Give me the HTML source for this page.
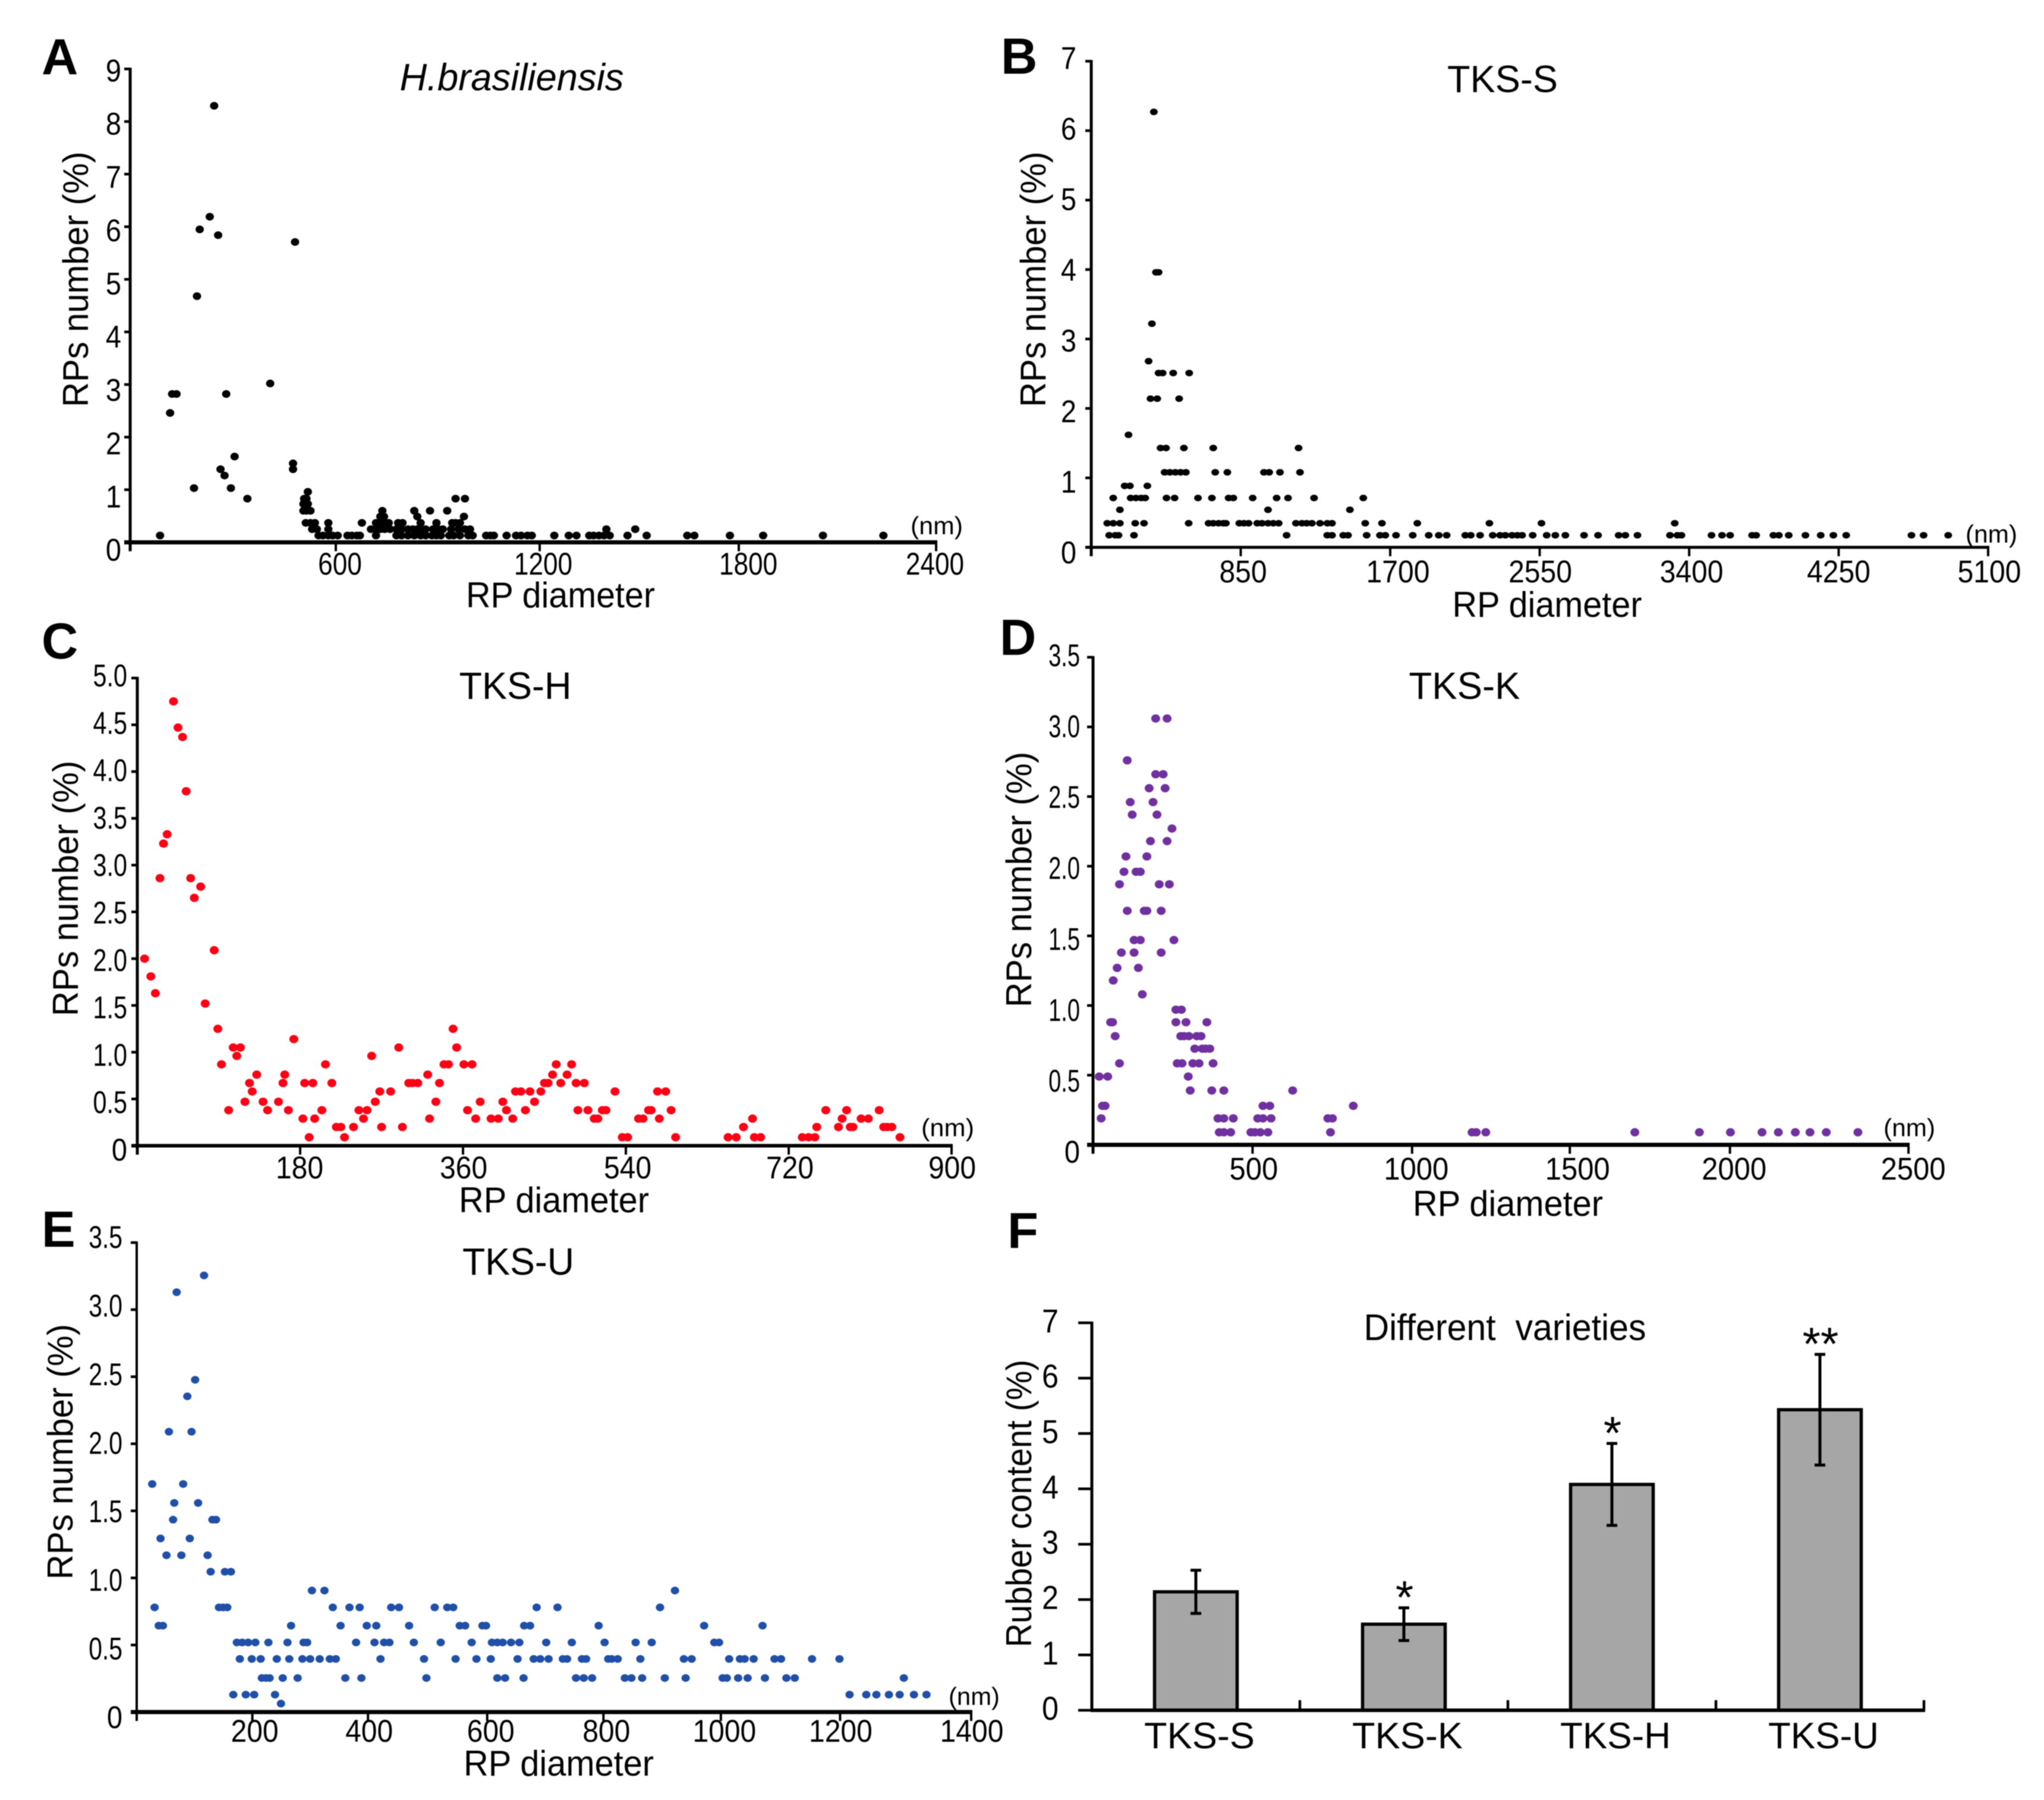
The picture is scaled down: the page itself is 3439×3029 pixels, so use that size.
<!DOCTYPE html>
<html lang="en">
<head>
<meta charset="utf-8">
<title>Rubber particle diameter distributions</title>
<style>
html,body{margin:0;padding:0;background:#fff;}
svg{display:block;}
text{font-family:"Liberation Sans",sans-serif;fill:#000;}
.letter{font-size:85px;font-weight:bold;}
.title{font-size:64px;text-anchor:middle;}
.axis-title{font-size:60px;text-anchor:middle;}
.nm{font-size:42px;}
#figure-content{filter:blur(0.7px);}
</style>
</head>
<body>
<svg id="figure" xmlns="http://www.w3.org/2000/svg" width="3439" height="3029" viewBox="0 0 3439 3029">
<rect x="0" y="0" width="3439" height="3029" fill="#fff"/>
<g id="figure-content">

<g id="panelA">
<text class="letter" x="70" y="125">A</text>
<text class="title" x="861" y="152" font-style="italic" textLength="377" lengthAdjust="spacingAndGlyphs">H.brasiliensis</text>
<text class="axis-title" x="148" y="470" transform="rotate(-90 148 470)" textLength="430" lengthAdjust="spacingAndGlyphs">RPs number (%)</text>
<text class="axis-title" x="943" y="1022" textLength="318" lengthAdjust="spacingAndGlyphs">RP diameter</text>
<text class="nm" x="1532" y="899" textLength="88" lengthAdjust="spacingAndGlyphs">(nm)</text>
</g>

<g id="panelB">
<text class="letter" x="1684" y="124">B</text>
<text class="title" x="2528" y="155" textLength="186" lengthAdjust="spacingAndGlyphs">TKS-S</text>
<text class="axis-title" x="1759" y="470" transform="rotate(-90 1759 470)" textLength="430" lengthAdjust="spacingAndGlyphs">RPs number (%)</text>
<text class="axis-title" x="2603" y="1038" textLength="319" lengthAdjust="spacingAndGlyphs">RP diameter</text>
<text class="nm" x="3307" y="913" textLength="87" lengthAdjust="spacingAndGlyphs">(nm)</text>
</g>

<g id="panelC">
<text class="letter" x="70" y="1108">C</text>
<text class="title" x="867" y="1176" textLength="189" lengthAdjust="spacingAndGlyphs">TKS-H</text>
<text class="axis-title" x="131" y="1495" transform="rotate(-90 131 1495)" textLength="430" lengthAdjust="spacingAndGlyphs">RPs number (%)</text>
<text class="axis-title" x="932" y="2040" textLength="320" lengthAdjust="spacingAndGlyphs">RP diameter</text>
<text class="nm" x="1550" y="1912" textLength="89" lengthAdjust="spacingAndGlyphs">(nm)</text>
</g>

<g id="panelD">
<text class="letter" x="1682" y="1102">D</text>
<text class="title" x="2464" y="1176" textLength="187" lengthAdjust="spacingAndGlyphs">TKS-K</text>
<text class="axis-title" x="1735" y="1480" transform="rotate(-90 1735 1480)" textLength="430" lengthAdjust="spacingAndGlyphs">RPs number (%)</text>
<text class="axis-title" x="2537" y="2046" textLength="320" lengthAdjust="spacingAndGlyphs">RP diameter</text>
<text class="nm" x="3169" y="1912" textLength="87" lengthAdjust="spacingAndGlyphs">(nm)</text>
</g>

<g id="panelE">
<text class="letter" x="70" y="2098">E</text>
<text class="title" x="872" y="2145" textLength="188" lengthAdjust="spacingAndGlyphs">TKS-U</text>
<text class="axis-title" x="122" y="2443" transform="rotate(-90 122 2443)" textLength="430" lengthAdjust="spacingAndGlyphs">RPs number (%)</text>
<text class="axis-title" x="940" y="2988" textLength="320" lengthAdjust="spacingAndGlyphs">RP diameter</text>
<text class="nm" x="1596" y="2869" textLength="86" lengthAdjust="spacingAndGlyphs">(nm)</text>
</g>

<g id="panelF">
<text class="letter" x="1695" y="2100">F</text>
<text class="title" x="2532" y="2255" style="white-space:pre;font-size:62px" textLength="475" lengthAdjust="spacingAndGlyphs">Different  varieties</text>
<text class="axis-title" x="1735" y="2530" transform="rotate(-90 1735 2530)" textLength="484" lengthAdjust="spacingAndGlyphs">Rubber content (%)</text>
</g>
</g>
</svg>

<script>
// Panel A: H. brasiliensis
const xTicksA=[600,1200,1800,2400];
const yTicksA=[0,1,2,3,4,5,6,7,8,9];
const yLabelsA=['0','1','2','3','4','5','6','7','8','9'];
const levelsA=[8.30,6.19,5.95,5.84,5.71,4.68,3.02,2.82,2.46,1.63,1.5,1.39,1.27,1.03,0.96,0.83,0.73,0.6,0.49,0.37,0.25,0.13];
const diametersA=[[250],[237],[207],[262],[491],[199],[417],[125,138,286],[119],[311],[485],[269,485],[281],[190,300],[529],[349,518,525,969,997],[516,529],[516,525,537,751,846,893,944],[745,756,855,994],
[523,537,550,590,690,732,745,758,770,798,811,865,912,959,969,982],
[542,556,590,717,732,745,758,774,793,808,827,842,855,868,880,902,918,931,956,978,997,1012,1418,1504],
[89,561,574,590,603,618,647,660,675,684,732,793,808,827,846,865,880,899,912,925,950,963,982,1007,1020,1060,1073,1083,1121,1149,1164,1183,1196,1263,1306,1329,1367,1380,1396,1411,1428,1481,1538,1659,1680,1786,1885,2063,2243]];

// Panel B: TKS-S
const xTicksB=[850,1700,2550,3400,4250,5100];
const yTicksB=[0,1,2,3,4,5,6,7];
const yLabelsB=['0','1','2','3','4','5','6','7'];
const levelsB=[6.27,3.96,3.22,2.68,2.51,2.14,1.62,1.43,1.08,0.885,0.71,0.54,0.347,0.174];
const diametersB=[[356],[368,383],[345],[326],[383,406,466,557],[337,375,500],[212],[394,425,527,694,1179],[417,447,478,508,538,705,774,982,1012,1073,1187],[190,220,319],
[125,224,254,284,307,428,474,607,686,781,808,918,1054,1119,1267,1547],[163,1005,1471],
[91,125,163,250,300,554,667,694,724,751,766,842,868,895,944,971,1005,1035,1066,1164,1198,1225,1255,1301,1342,1369,1558,1653,1854,2264,2560,3318],
[102,137,155,243,1111,1342,1369,1433,1460,1566,1642,1672,1733,1828,1919,1976,2021,2127,2158,2211,2283,2325,2355,2393,2423,2450,2510,2590,2639,2696,2802,2882,2999,3037,3106,3291,3333,3356,3527,3587,3633,3758,3781,3879,3910,3966,4061,4148,4220,4293,4664,4733,4873]];

// Panel C: TKS-H
const xTicksC=[180,360,540,720,900];
const yTicksC=[0,0.5,1,1.5,2,2.5,3,3.5,4,4.5,5];
const yLabelsC=['0','0.5','1.0','1.5','2.0','2.5','3.0','3.5','4.0','4.5','5.0'];
const levelsC=[4.75,4.47,4.37,3.79,3.33,3.23,2.86,2.77,2.65,2.09,2.0,1.81,1.63,1.52,1.25,1.14,1.05,0.96,0.87,0.76,0.67,0.58,0.47,0.38,0.29,0.2,0.09];
const diametersC=[[40],[45],[50],[54],[33],[29],[25,59],[70],[63],[85],[8],[15],[20],[75],[89,349],[173],[106,114,289,353],[110,259],[93,208,339,344,361,370,463,480],
[132,163,321,459,475],
[124,161,185,194,215,300,304,310,334,450,454,468,485,494],
[127,268,280,418,424,434,446,528,575,584],
[119,139,156,263,330,379,404,439],
[101,144,167,204,245,254,365,408,429,487,498,514,518,565,568,590,761,784,820],
[183,196,250,323,374,391,399,415,505,509,554,559,577,680,779,800,808],
[220,225,239,270,293,670,751,775,788,791,825,829,834],
[190,229,536,542,595,653,662,682,689,735,742,749,843]];

// Panel D: TKS-K
const xTicksD=[500,1000,1500,2000,2500];
const yTicksD=[0,0.5,1,1.5,2,2.5,3,3.5];
const yLabelsD=['0','0.5','1.0','1.5','2.0','2.5','3.0','3.5'];
const levelsD=[3.06,2.76,2.66,2.56,2.46,2.37,2.27,2.18,2.07,1.96,1.87,1.68,1.47,1.38,1.27,1.18,1.08,0.97,0.88,0.78,0.69,0.585,0.49,0.39,0.28,0.19,0.09];
const diametersD=[[192,227],[105],[192,215],[172,221],[114,184],[120,196],[242],[176,227],[101,165],[95,132,145],[81,203,234],[105,157,165,209],[126,145,248],[87,126,209],[74,139],[62],[151],[254,271],
[54,60,254,285,349],[68,269,279,294,318,331],[312,335,345,358],[81,258,273,306,325,368],[19,45,292],[298,364,401,612],[29,37,521,542,798],
[25,383,401,430,505,521,546,720,734],
[387,401,422,484,496,513,536,728,1162,1175,1204,1661,1859,1954,2051,2101,2153,2198,2248,2345]];

// Panel E: TKS-U
const xTicksE=[200,400,600,800,1000,1200,1400];
const yTicksE=[0,0.5,1,1.5,2,2.5,3,3.5];
const yLabelsE=['0','0.5','1.0','1.5','2.0','2.5','3.0','3.5'];
const levelsE=[3.255,3.13,2.477,2.354,2.09,1.7,1.559,1.434,1.294,1.169,1.046,0.906,0.78,0.644,0.519,0.396,0.254,0.13,0.063];
const diametersE=[[113],[67],[98],[85],[54,92],[26,78],[63,103],[61,127,133],[40,89],[50,75,119],[124,148,158],[294,315,903],
[30,138,145,152,329,357,374,427,440,500,521,531,671,706,878],
[37,44,259,342,386,402,457,542,551,580,586,650,660,775,952,1050],
[168,177,187,199,221,253,280,286,368,399,415,424,465,510,562,596,605,614,628,642,687,730,785,837,864,969,977],
[173,193,208,235,256,278,291,307,324,334,409,482,535,570,594,639,666,677,691,715,722,747,754,791,797,807,845,918,931,994,1012,1020,1035,1070,1081,1133,1179],
[210,217,223,245,270,350,377,486,605,618,649,737,750,764,819,830,848,886,921,983,990,1009,1025,1054,1090,1104,1287],
[162,183,197,232,1196,1224,1241,1262,1280,1304,1325],
[242]];

// Panel F: rubber content
const varieties=['TKS-S','TKS-K','TKS-H','TKS-U'];
const rubberContent=[2.14,1.555,4.08,5.43];
const rubberError=[0.39,0.295,0.74,1.0];
const significance=['','*','*','**'];
const yTicksF=[0,1,2,3,4,5,6,7];
const yLabelsF=['0','1','2','3','4','5','6','7'];

const SVGNS='http://www.w3.org/2000/svg';
function mk(parent,tag,attrs,text){
  const el=document.createElementNS(SVGNS,tag);
  for(const k in attrs){el.setAttribute(k,attrs[k]);}
  if(text!==undefined){el.textContent=text;}
  parent.appendChild(el);
  return el;
}
function naturalEm(s){
  let w=0;
  for(const c of s){w+=(c==='.')?0.278:0.556;}
  return w;
}

function drawScatter(c){
  const g=document.getElementById(c.id);
  const xs=v=>c.x0+(c.x1-c.x0)*v/c.xMax;
  const ys=v=>c.y0+(c.y1-c.y0)*v/c.yMax;

  const yAxis=mk(g,'line',{x1:c.x0,x2:c.x0,y1:ys(c.yMax)-2,y2:c.y0+15,stroke:'#000','stroke-width':c.yAxisW});
  
  
  const xAxis=mk(g,'line',{x1:c.x0-10,x2:c.x1+2,y1:c.y0,y2:c.y0,stroke:'#000','stroke-width':c.xAxisW});
  
  

  c.yTicks.forEach((v,i)=>{
    const t=mk(g,'line',{x1:c.x0-10,x2:c.x0,y1:ys(v),y2:ys(v),stroke:'#000','stroke-width':4.5});
    
    
    const off=c.yOffBottom+(c.yOffTop-c.yOffBottom)*v/c.yMax;
    const s=c.yLabels[i];
    const sy=(s.length>1)?c.yLabelScale:1;
    const l=mk(g,'text',{x:c.yLabelRight,y:ys(v)+off,'text-anchor':'end','font-size':53,textLength:(naturalEm(s)*47*sy).toFixed(1),lengthAdjust:'spacingAndGlyphs'},s);
    
    
  });
  c.xTicks.forEach((v,i)=>{
    const px=xs(v)+c.tickNudge[i];
    const t=mk(g,'line',{x1:px,x2:px,y1:c.y0,y2:c.y0+15,stroke:'#000','stroke-width':4});
    
    
    const s=String(v);
    const l=mk(g,'text',{x:xs(v)+c.labelNudge[i],y:c.xLabelY,'text-anchor':'middle','font-size':53,textLength:(naturalEm(s)*48*c.xLabelScale).toFixed(1),lengthAdjust:'spacingAndGlyphs'},s);
    
    
  });
  c.levels.forEach((pct,i)=>{
    c.diameters[i].forEach(d=>{
      const p=mk(g,'ellipse',{cx:xs(d).toFixed(1),cy:ys(pct).toFixed(1),rx:c.rx,ry:c.ry,fill:c.color});
      
      
    });
  });
}

drawScatter({id:'panelA',x0:219,x1:1575,y0:912.6,y1:116,xMax:2400,yMax:9,xTicks:xTicksA,yTicks:yTicksA,yLabels:yLabelsA,levels:levelsA,diameters:diametersA,color:'#000',rx:7,ry:6.5,xAxisW:7,yAxisW:5,yLabelRight:204,yOffTop:21,yOffBottom:31,yLabelScale:1,xLabelY:967,xLabelScale:0.92,tickNudge:[7,11,7,0],labelNudge:[14,17,23,-2]});
drawScatter({id:'panelB',x0:1836,x1:3345,y0:921,y1:103,xMax:5100,yMax:7,xTicks:xTicksB,yTicks:yTicksB,yLabels:yLabelsB,levels:levelsB,diameters:diametersB,color:'#000',rx:6.5,ry:5.5,xAxisW:5,yAxisW:5,yLabelRight:1811,yOffTop:13,yOffBottom:27,yLabelScale:1,xLabelY:980,xLabelScale:1,tickNudge:[0,0,0,0,0,0],labelNudge:[4,13,1,4,0,2]});
drawScatter({id:'panelC',x0:231,x1:1601,y0:1928,y1:1141,xMax:900,yMax:5,xTicks:xTicksC,yTicks:yTicksC,yLabels:yLabelsC,levels:levelsC,diameters:diametersC,color:'#ff0014',rx:7.5,ry:7,xAxisW:6,yAxisW:5,yLabelRight:214,yOffTop:14,yOffBottom:25,yLabelScale:0.88,xLabelY:1983,xLabelScale:1,tickNudge:[0,0,0,0,0],labelNudge:[-1,1,3,2,1]});
drawScatter({id:'panelD',x0:1839,x1:3211,y0:1926.5,y1:1106,xMax:2500,yMax:3.5,xTicks:xTicksD,yTicks:yTicksD,yLabels:yLabelsD,levels:levelsD,diameters:diametersD,color:'#7030a0',rx:7.5,ry:7,xAxisW:7,yAxisW:5,yLabelRight:1817,yOffTop:15,yOffBottom:30,yLabelScale:0.81,xLabelY:1985,xLabelScale:1.02,tickNudge:[-6,-12,-21,-26,0],labelNudge:[-4,-5,-8,-19,8]});
drawScatter({id:'panelE',x0:230,x1:1634,y0:2881,y1:2091,xMax:1400,yMax:3.5,xTicks:xTicksE,yTicks:yTicksE,yLabels:yLabelsE,levels:levelsE,diameters:diametersE,color:'#1f4fa8',rx:7,ry:6.5,xAxisW:7,yAxisW:4,yLabelRight:206,yOffTop:9,yOffBottom:27,yLabelScale:0.87,xLabelY:2931,xLabelScale:1,tickNudge:[-6,-12,-12,-17,-20,-20,0],labelNudge:[-2,-10,-6,-12,-14,-19,1]});

(function drawBars(){
  const g=document.getElementById('panelF');
  const x0=1837,x1=3237,y0=2878,y7=2226,yMax=7;
  const band=(x1-x0)/varieties.length;
  const barW=139;
  const ys=v=>y0+(y7-y0)*v/yMax;
  const xc=i=>x0+band*(i+0.5);

  const yAxis=mk(g,'line',{x1:x0,x2:x0,y1:y7-2,y2:y0+2,stroke:'#000','stroke-width':5});
  
  

  yTicksF.forEach((v,i)=>{
    const t=mk(g,'line',{x1:x0-23,x2:x0,y1:ys(v),y2:ys(v),stroke:'#000','stroke-width':4.5});
    
    
    const l=mk(g,'text',{x:1781,y:ys(v)+16,'text-anchor':'end','font-size':56,textLength:28,lengthAdjust:'spacingAndGlyphs'},yLabelsF[i]);
    
    
  });

  varieties.forEach((name,i)=>{
    const bar=mk(g,'rect',{x:xc(i)-barW/2,y:ys(rubberContent[i]),width:barW,height:y0-ys(rubberContent[i]),fill:'#a6a6a6',stroke:'#000','stroke-width':5.5});
    
    

    const hi=ys(rubberContent[i]+rubberError[i]);
    const lo=ys(rubberContent[i]-rubberError[i]);
    const err=mk(g,'path',{d:'M'+xc(i)+' '+hi+'V'+lo+'M'+(xc(i)-9)+' '+hi+'H'+(xc(i)+9)+'M'+(xc(i)-9)+' '+lo+'H'+(xc(i)+9),fill:'none',stroke:'#000','stroke-width':5});
    
    

    if(significance[i]){
      const star=mk(g,'text',{x:xc(i)+1,y:hi+9,'text-anchor':'middle','font-size':78},significance[i]);
      
      
    }

    const lab=mk(g,'text',{x:xc(i)+6,y:2942,'text-anchor':'middle','font-size':62,textLength:186,lengthAdjust:'spacingAndGlyphs'},name);
    
    

    const sep=mk(g,'line',{x1:x0+band*(i+1),x2:x0+band*(i+1),y1:y0-17,y2:y0,stroke:'#000','stroke-width':4.5});
    
    
  });

  const xAxis=mk(g,'line',{x1:x0-2,x2:x1+2,y1:y0,y2:y0,stroke:'#000','stroke-width':6});
  
  
})();
</script>
</body>
</html>
